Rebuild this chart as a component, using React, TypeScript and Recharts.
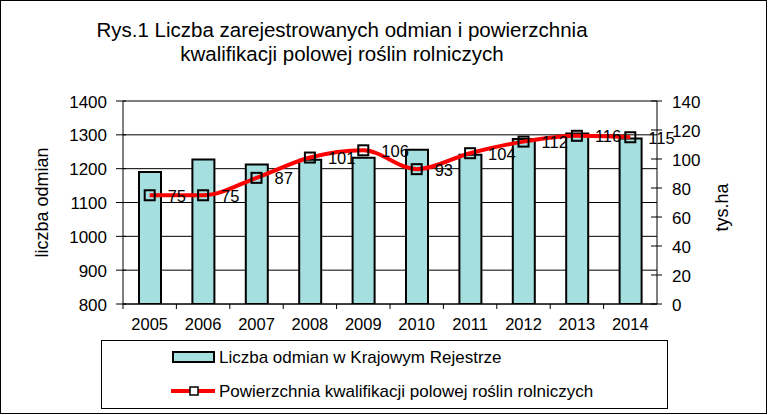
import React from 'react';
import { ComposedChart, Bar, Line, XAxis, YAxis, CartesianGrid, LabelList, Legend } from 'recharts';

const years = ['2005', '2006', '2007', '2008', '2009', '2010', '2011', '2012', '2013', '2014'];
const varietiesCount = [1190, 1227, 1212, 1226, 1232, 1256, 1241, 1288, 1304, 1289];
const qualificationArea = [75, 75, 87, 101, 106, 93, 104, 112, 116, 115];
const leftTicks = [800, 900, 1000, 1100, 1200, 1300, 1400];
const rightTicks = [0, 20, 40, 60, 80, 100, 120, 140];

const barName = 'Liczba odmian w Krajowym Rejestrze';
const lineName = 'Powierzchnia kwalifikacji polowej roślin rolniczych';

const data = years.map((y, i) => ({ year: y, odmiany: varietiesCount[i], pow: qualificationArea[i] }));

const W = 768;
const H = 415;
const PLOT_LEFT = 123;
const PLOT_RIGHT = 657;
const PLOT_TOP = 101;
const PLOT_BOTTOM = 304;
const BAND = (PLOT_RIGHT - PLOT_LEFT) / years.length;
const FONT = '"Liberation Sans", Arial, sans-serif';

const LeftTick = (props: any) => {
  const { x, y, payload } = props;
  return (
    <g>
      <line x1={x - 7} x2={x + 3} y1={y} y2={y} stroke="#000" strokeWidth={1} />
      <text x={x - 16} y={y + 6.5} textAnchor="end" fontSize={17} fill="#000" fontFamily={FONT}>
        {payload.value}
      </text>
    </g>
  );
};

const RightTick = (props: any) => {
  const { x, y, payload } = props;
  return (
    <g>
      <line x1={x - 6} x2={x + 5} y1={y} y2={y} stroke="#000" strokeWidth={1} />
      <text x={x + 15} y={y + 6.5} textAnchor="start" fontSize={17} fill="#000" fontFamily={FONT}>
        {payload.value}
      </text>
    </g>
  );
};

const BottomTick = (props: any) => {
  const { x, y, payload } = props;
  return (
    <g>
      <line x1={x - BAND / 2} x2={x - BAND / 2} y1={y} y2={y + 5} stroke="#000" strokeWidth={1} />
      <text x={x} y={y + 25.5} textAnchor="middle" fontSize={16.5} fill="#000" fontFamily={FONT}>
        {payload.value}
      </text>
    </g>
  );
};

const SquareDot = (props: any) => {
  const { cx, cy, index } = props;
  if (cx == null || cy == null) return null;
  return <rect key={`d${index}`} x={cx - 5} y={cy - 5} width={10} height={10} fill="none" stroke="#000" strokeWidth={2} />;
};

const PointLabel = (props: any) => {
  const { x, y, value } = props;
  return (
    <text x={x + 18} y={y + 6.5} textAnchor="start" fontSize={16.5} fill="#000" fontFamily={FONT}>
      {value}
    </text>
  );
};

const LegendBox = () => (
  <div
    style={{
      width: 567,
      height: 69,
      boxSizing: 'border-box',
      border: '1.5px solid #000',
      background: '#fff',
      position: 'relative',
      fontFamily: FONT,
      color: '#000',
    }}
  >
    <svg width={567} height={69} style={{ position: 'absolute', left: -1.5, top: -1.5 }}>
      <rect x={72} y={12} width={41} height={10} fill="#a5dfdf" stroke="#000" strokeWidth={2} />
      <text x={118} y={23} fontSize={17} fontFamily={FONT} fill="#000">{barName}</text>
      <line x1={70} x2={114} y1={51} y2={51} stroke="#ff0000" strokeWidth={4} />
      <rect x={89} y={47} width={8} height={8} fill="#fff" stroke="#000" strokeWidth={1.5} />
      <text x={118} y={57} fontSize={17} fontFamily={FONT} fill="#000">{lineName}</text>
    </svg>
  </div>
);

export default function App() {
  return (
    <div style={{ position: 'absolute', left: 0, top: 0, width: W, height: H, background: '#fff', fontFamily: FONT }}>
      <ComposedChart
        width={W}
        height={H}
        data={data}
        margin={{ top: PLOT_TOP, right: 0, left: 0, bottom: 0 }}
        style={{ fontFamily: FONT }}
      >
        <CartesianGrid horizontal vertical={false} stroke="#000" strokeWidth={1} yAxisId="left" />
        <XAxis
          dataKey="year"
          height={H - PLOT_BOTTOM}
          tickSize={0}
          tickMargin={0}
          tick={<BottomTick />}
          axisLine={{ stroke: '#000', strokeWidth: 1 }}
          tickLine={false}
          interval={0}
        />
        <YAxis
          yAxisId="left"
          orientation="left"
          width={PLOT_LEFT}
          domain={[800, 1400]}
          ticks={leftTicks}
          tickSize={0}
          tickMargin={0}
          tick={<LeftTick />}
          tickLine={false}
          axisLine={{ stroke: '#000', strokeWidth: 1 }}
          allowDataOverflow
          label={{
            content: (p: any) => {
              const vb = p.viewBox || {};
              const cx = vb.x + 42;
              const cy = vb.y + vb.height / 2;
              return (
                <text x={cx} y={cy} transform={`rotate(-90 ${cx} ${cy})`} textAnchor="middle" dominantBaseline="central" fontSize={18} fontFamily={FONT} fill="#000">
                  liczba odmian
                </text>
              );
            },
          }}
        />
        <YAxis
          yAxisId="right"
          orientation="right"
          width={W - PLOT_RIGHT}
          domain={[0, 140]}
          ticks={rightTicks}
          tickSize={0}
          tickMargin={0}
          tick={<RightTick />}
          tickLine={false}
          axisLine={{ stroke: '#000', strokeWidth: 1 }}
          label={{
            content: (p: any) => {
              const vb = p.viewBox || {};
              const cx = vb.x + 65;
              const cy = vb.y + vb.height / 2 + 5;
              return (
                <text x={cx} y={cy} transform={`rotate(-90 ${cx} ${cy})`} textAnchor="middle" dominantBaseline="central" fontSize={18} fontFamily={FONT} fill="#000">
                  tys.ha
                </text>
              );
            },
          }}
        />
        <Legend
          layout="vertical"
          align="center"
          verticalAlign="middle"
          content={() => <LegendBox />}
          wrapperStyle={{ position: 'absolute', left: 101, top: 340, width: 567, height: 69 }}
        />
        <Bar
          yAxisId="left"
          dataKey="odmiany"
          name={barName}
          barSize={22}
          fill="#a5dfdf"
          stroke="#000"
          strokeWidth={2}
          isAnimationActive={false}
        />
        <Line
          yAxisId="right"
          dataKey="pow"
          name={lineName}
          type="monotone"
          stroke="#ff0000"
          strokeWidth={4}
          dot={<SquareDot />}
          activeDot={false}
          isAnimationActive={false}
        >
          <LabelList dataKey="pow" content={<PointLabel />} />
        </Line>
      </ComposedChart>
      <div
        style={{
          position: 'absolute',
          left: 0,
          top: 18,
          width: 684,
          textAlign: 'center',
          fontSize: 20.5,
          lineHeight: '24px',
          color: '#000',
          fontFamily: FONT,
        }}
      >
        Rys.1 Liczba zarejestrowanych odmian i powierzchnia
        <br />
        kwalifikacji polowej roślin rolniczych
      </div>
      <div
        style={{
          position: 'absolute',
          left: 0,
          top: 0,
          width: 767,
          height: 414,
          boxSizing: 'border-box',
          border: '1px solid #000',
          pointerEvents: 'none',
        }}
      />
    </div>
  );
}
